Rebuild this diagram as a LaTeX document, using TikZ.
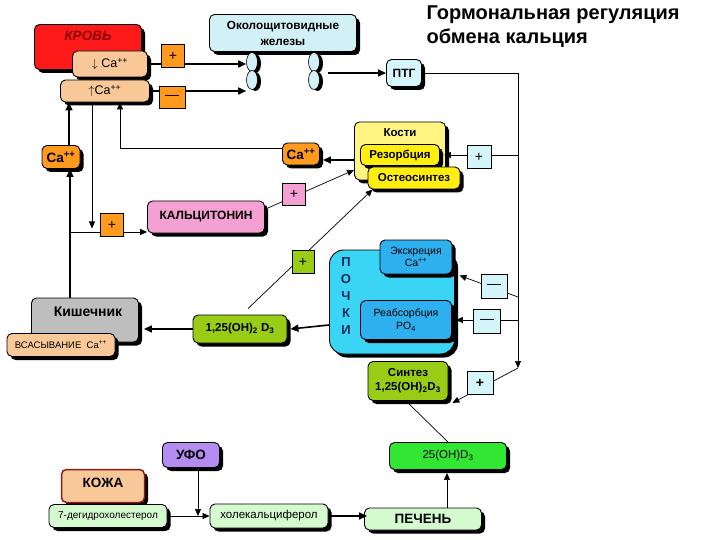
\documentclass[tikz,border=0pt]{standalone}
\usepackage{fontspec}
\setmainfont{Liberation Sans}
\usepackage{tikz}
\usetikzlibrary{arrows.meta, shapes.geometric, shadows}
\definecolor{bloodRed}{HTML}{FF1A1A}
\definecolor{bloodText}{HTML}{8B0000}
\definecolor{peachFill}{HTML}{F9C898}
\definecolor{signOrange}{HTML}{FF9A1E}
\definecolor{glandBlue}{HTML}{D2F1F7}
\definecolor{signBlue}{HTML}{D4F6FA}
\definecolor{boneLight}{HTML}{FFF580}
\definecolor{boneYellow}{HTML}{FFEE10}
\definecolor{calcPink}{HTML}{F5A0D2}
\definecolor{oliveGreen}{HTML}{99CC14}
\definecolor{kidneyCyan}{HTML}{3AD4F5}
\definecolor{kidneyBlue}{HTML}{2FB0EE}
\definecolor{kidneyText}{HTML}{1A2A5A}
\definecolor{uvPurple}{HTML}{B48CF2}
\definecolor{paleGreen}{HTML}{D6FAD0}
\definecolor{brightGreen}{HTML}{33E633}
\definecolor{gutGray}{HTML}{BEBEBE}
\definecolor{skinBorder}{HTML}{8B1A1A}

\tikzset{
    box/.style={rectangle, rounded corners=5pt, draw=black, line width=0.9pt, inner sep=1pt, align=center,
        general shadow={fill=black, shadow xshift=3.5pt, shadow yshift=-3.5pt}},
    sign/.style={rectangle, draw=black, line width=0.5pt, inner sep=0pt, font=\fontsize{14}{14}\selectfont},
    gland/.style={ellipse, draw=black, line width=0.6pt, fill=glandBlue, minimum width=11pt, minimum height=19pt, inner sep=0pt,
        general shadow={fill=black, shadow xshift=3.5pt, shadow yshift=-1.5pt}},
    thickarr/.style={line width=1.6pt, -{Triangle[length=8pt,width=7pt]}},
    thinarr/.style={line width=0.7pt, -{Triangle[length=7pt,width=6pt]}},
}

\begin{document}
\begin{tikzpicture}[x=1pt, y=-1pt]
    \useasboundingbox (0,0) rectangle (720,540);

    % title
    \node[anchor=north west, align=left, font=\fontsize{20}{24}\selectfont\bfseries] (title) at (423,2)
        {Гормональная регуляция\\обмена кальция};

    % blood
    \node[box, fill=bloodRed, minimum width=107pt, minimum height=45pt] (krov) at (88,47) {};
    \node[font=\fontsize{13.5}{13.5}\selectfont\bfseries\itshape, text=bloodText] (krovtxt) at (88,36) {КРОВЬ};
    \node[box, fill=peachFill, minimum width=75pt, minimum height=26pt, font=\fontsize{12.5}{12.5}\selectfont] (cadown) at (110,64)
        {$\downarrow$ Ca\textsuperscript{++}};
    \node[box, fill=peachFill, minimum width=89pt, minimum height=22pt, font=\fontsize{12.5}{12.5}\selectfont] (caup) at (105,91)
        {$\uparrow$Ca\textsuperscript{++}};

    % parathyroid glands
    \node[box, fill=glandBlue, minimum width=147pt, minimum height=37pt, font=\fontsize{11.8}{16}\selectfont\bfseries] (okol) at (283,33)
        {Околощитовидные\\железы};
    \node[gland] (gl1a) at (252,62) {};
    \node[gland] (gl1b) at (252,80) {};
    \node[gland] (gl2a) at (314,62) {};
    \node[gland] (gl2b) at (314,80) {};
    \node[box, fill=signBlue, minimum width=35pt, minimum height=27pt, font=\fontsize{12}{12}\selectfont\bfseries] (ptg) at (404,73) {ПТГ};

    % bones
    \node[box, fill=boneLight, minimum width=91pt, minimum height=58pt] (kosti) at (400,151) {};
    \node[font=\fontsize{11.5}{11.5}\selectfont\bfseries] (kostitxt) at (400,133) {Кости};
    \node[box, fill=boneYellow, minimum width=79pt, minimum height=21pt, font=\fontsize{11.5}{11.5}\selectfont\bfseries] (rez) at (400,155) {Резорбция};
    \node[box, fill=boneYellow, minimum width=92pt, minimum height=22pt, font=\fontsize{11.5}{11.5}\selectfont\bfseries] (osteo) at (414,178) {Остеосинтез};

    \node[box, fill=signOrange, minimum width=37pt, minimum height=22pt, font=\fontsize{13.5}{13.5}\selectfont\bfseries] (ca2) at (301,154) {Ca\textsuperscript{++}};
    \node[box, fill=signOrange, minimum width=38pt, minimum height=23pt, font=\fontsize{13.5}{13.5}\selectfont\bfseries] (ca1) at (61,157) {Ca\textsuperscript{++}};

    \node[box, fill=calcPink, minimum width=117pt, minimum height=32pt, font=\fontsize{12}{12}\selectfont\bfseries] (calc) at (206,217) {КАЛЬЦИТОНИН};

    % intestine
    \node[box, fill=gutGray, minimum width=107pt, minimum height=44pt] (kish) at (85,320) {};
    \node[font=\fontsize{14}{14}\selectfont\bfseries] (kishtxt) at (88,312) {Кишечник};
    \node[box, fill=peachFill, minimum width=108pt, minimum height=23pt, font=\fontsize{9.5}{9.5}\selectfont] (vsas) at (61,345)
        {ВСАСЫВАНИЕ~~Ca\textsuperscript{++}};

    \node[box, fill=oliveGreen, minimum width=94pt, minimum height=28pt, font=\fontsize{11.5}{11.5}\selectfont\bfseries] (d125) at (240,329)
        {1,25(OH)\textsubscript{2} D\textsubscript{3}};

    % kidneys
    \node[box, rounded corners=14pt, fill=kidneyCyan, minimum width=125pt, minimum height=104pt] (pochki) at (392,302) {};
    \node[align=center, text=kidneyText, font=\fontsize{13}{17}\selectfont\bfseries] (pochkitxt) at (346,296) {П\\О\\Ч\\К\\И};
    \node[box, fill=kidneyBlue, minimum width=72pt, minimum height=34pt, font=\fontsize{10.5}{12}\selectfont] (exc) at (416,257)
        {Экскреция\\Ca\textsuperscript{++}};
    \node[box, fill=kidneyBlue, minimum width=91pt, minimum height=39pt, font=\fontsize{10.5}{13}\selectfont] (reab) at (406,320)
        {Реабсорбция\\PO\textsubscript{4}};
    \node[box, fill=oliveGreen, minimum width=80pt, minimum height=39pt, font=\fontsize{11.5}{14}\selectfont\bfseries] (synt) at (408,381)
        {Синтез\\1,25(OH)\textsubscript{2}D\textsubscript{3}};

    % skin and liver
    \node[box, fill=uvPurple, minimum width=57pt, minimum height=25pt, font=\fontsize{13.5}{13.5}\selectfont\bfseries] (uvo) at (191,455) {УФО};
    \node[box, fill=peachFill, draw=skinBorder, line width=1.5pt, minimum width=83pt, minimum height=33pt] (kozha) at (103,486) {};
    \node[font=\fontsize{13.5}{13.5}\selectfont\bfseries] (kozhatxt) at (103,483) {КОЖА};
    \node[box, fill=paleGreen, minimum width=118pt, minimum height=23pt, font=\fontsize{10}{10}\selectfont] (dehyd) at (108,516) {7-дегидрохолестерол};
    \node[box, fill=paleGreen, minimum width=118pt, minimum height=24pt, font=\fontsize{11.5}{11.5}\selectfont] (hol) at (269,516) {холекальциферол};
    \node[box, fill=paleGreen, minimum width=117pt, minimum height=22pt, font=\fontsize{13.5}{13.5}\selectfont\bfseries] (pech) at (423,519) {ПЕЧЕНЬ};
    \node[box, fill=brightGreen, minimum width=117pt, minimum height=27pt, font=\fontsize{11.5}{11.5}\selectfont] (d25) at (448,456)
        {25(OH)D\textsubscript{3}};

    % connectors
    \coordinate (rb) at (518,368);
    \coordinate (j1) at (70,232);
    \coordinate (j3) at (518,297);
    \coordinate (k1) at (354,160);

    \draw[thickarr] (cadown.east) -- (cadown.east -| gl1a.west);
    \draw[thickarr] (caup.east) -- (caup.east -| gl1b.west);
    \draw[thickarr] ([xshift=8pt]gl2b.east |- ptg.west) -- (ptg.west);
    \draw[thinarr] ([xshift=3pt]ptg.east) -| (rb);
    \draw[thinarr] (rb |- rez.east) -- ([xshift=4pt]rez.east);
    \draw[thinarr] (j3) -- ([xshift=7pt,yshift=-1pt]exc.south east);
    \draw[thinarr] (rb |- reab.east) -- ([xshift=4pt]reab.east);
    \draw[thinarr] (rb) -- ([xshift=4pt,yshift=-2pt]synt.south east);

    \draw[thickarr] (k1) -- ([xshift=3pt]k1 -| ca2.east);
    \draw[thinarr] ([yshift=6pt]ca2.west) -| ([xshift=15pt]caup.south);
    \draw[thickarr] ([xshift=8pt]ca1.north) -- ([xshift=8pt]ca1.north |- caup.south);
    \draw[thickarr] (kish.north -| j1) -- (ca1.south -| j1);
    \draw[thinarr] ([xshift=-13pt]caup.south) -- ++(0,126);
    \draw[thinarr] (j1) -- (j1 -| calc.west);
    \draw[thinarr] ([xshift=3pt,yshift=9pt]calc.east) -- ([yshift=-19pt]kosti.west);
    \draw[thinarr] ([xshift=8pt,yshift=6pt]d125.north) -- ([xshift=5pt]osteo.south west);

    \draw[thickarr] ([yshift=-23pt]pochki.west) -- ([xshift=3pt]d125.east);
    \draw[thickarr] (d125.west) -- ([xshift=5pt]d125.west -| kish.east);
    \draw[line width=0.7pt] ([yshift=-2pt]synt.south) -- (d25.north);

    \draw[thinarr] ([xshift=7pt]uvo.south) -- ([xshift=7pt]uvo.south |- hol.west);
    \draw[thinarr] (dehyd.east) -- (hol.west);
    \draw[thickarr] ([xshift=3pt]hol.east) -- ([xshift=3pt]hol.east -| pech.west);
    \draw[thinarr] ([xshift=24pt]pech.north) -- ([xshift=24pt,yshift=-3pt]pech.north |- d25.south);

    % signs on the connectors
    \node[sign, fill=signOrange, minimum width=23pt, minimum height=23pt] (pl1) at (173,56) {+};
    \node[sign, fill=signOrange, minimum width=26pt, minimum height=22pt] (mn1) at (172,97) {—};
    \node[sign, fill=signBlue, minimum width=24pt, minimum height=23pt] (pl2) at (479,157) {+};
    \node[sign, fill=calcPink, minimum width=23pt, minimum height=22pt] (pl3) at (294,194) {+};
    \node[sign, fill=signOrange, minimum width=23pt, minimum height=23pt] (pl4) at (112,225) {+};
    \node[sign, fill=oliveGreen, minimum width=22pt, minimum height=23pt] (pl5) at (303,262) {+};
    \node[sign, fill=signBlue, minimum width=26pt, minimum height=24pt] (mn2) at (494,286) {—};
    \node[sign, fill=signBlue, minimum width=27pt, minimum height=24pt] (mn3) at (487,321) {—};
    \node[sign, fill=signBlue, minimum width=26pt, minimum height=23pt, font=\fontsize{14}{14}\selectfont\bfseries] (pl6) at (480,383) {+};
\end{tikzpicture}
\end{document}
